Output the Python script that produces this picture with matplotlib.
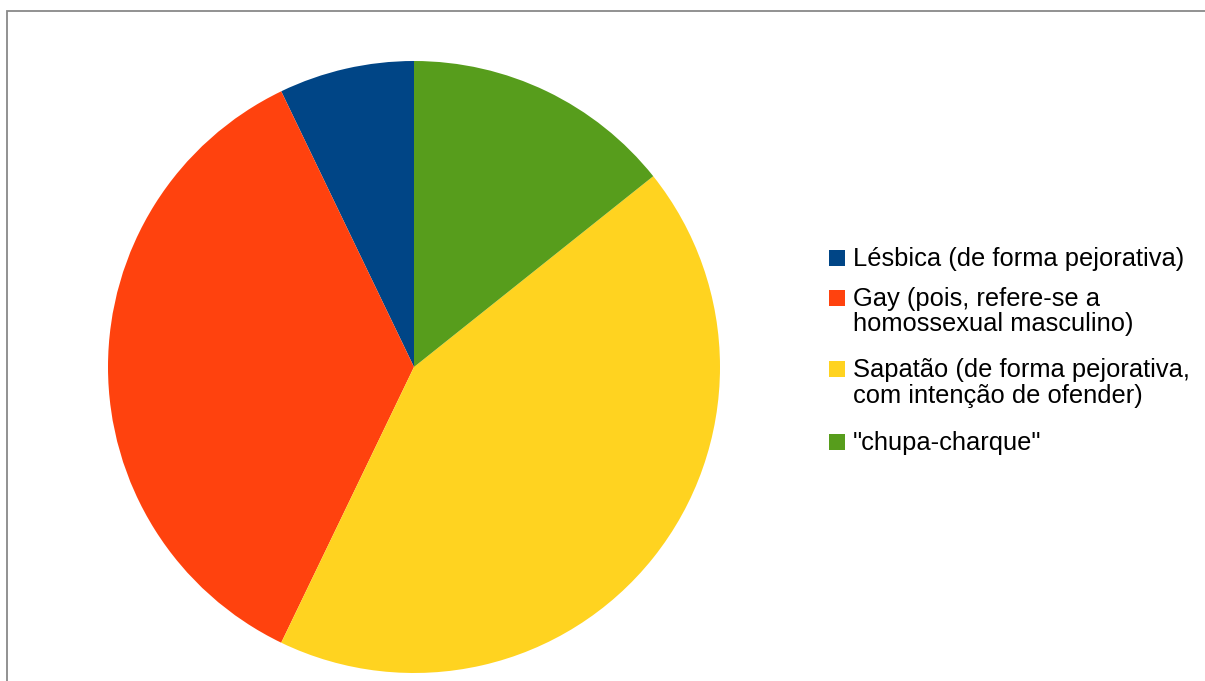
import matplotlib.pyplot as plt
from matplotlib.patches import Rectangle

# dados
labels = ['Lésbica (de forma pejorativa)',
          'Gay (pois, refere-se a\nhomossexual masculino)',
          'Sapatão (de forma pejorativa,\ncom intenção de ofender)',
          '"chupa-charque"']
counts = [1, 5, 6, 2]
colors = ['#004586', '#ff420e', '#ffd320', '#579d1c']

plt.rcParams['font.family'] = ['Liberation Sans', 'DejaVu Sans']

W, H = 1205, 681
fig = plt.figure(figsize=(W / 100, H / 100), dpi=100)

# moldura cinza
fig.patches.append(Rectangle((7.5 / W, -0.1), 1.2, 1 - 10.5 / H + 0.1,
                             transform=fig.transFigure, fill=False,
                             edgecolor='#898989', linewidth=1.3))

cx, cy, r = 414, 367, 306
ax = fig.add_axes([(cx - r) / W, (H - cy - r) / H, 2 * r / W, 2 * r / H])
ax.pie(counts, colors=colors, startangle=90, counterclock=True,
       wedgeprops={'linewidth': 0})
ax.set_xlim(-1, 1)
ax.set_ylim(-1, 1)
ax.axis('off')

# legenda montada à mão (símbolo alinhado com a primeira linha, como no original)
baselines = [266, 306, 377, 450]   # px a partir do topo, linha de base da 1a linha
pitch = 25.5
sq = 16
for lab, col, yb in zip(labels, colors, baselines):
    fig.patches.append(Rectangle((829 / W, (H - yb) / H), sq / W, sq / H,
                                 transform=fig.transFigure, facecolor=col,
                                 edgecolor='none'))
    for k, line in enumerate(lab.split('\n')):
        fig.text(853 / W, (H - yb - k * pitch) / H, line, fontsize=18.4,
                 va='baseline', ha='left', color='black')

fig.savefig('out.png', dpi=100)
